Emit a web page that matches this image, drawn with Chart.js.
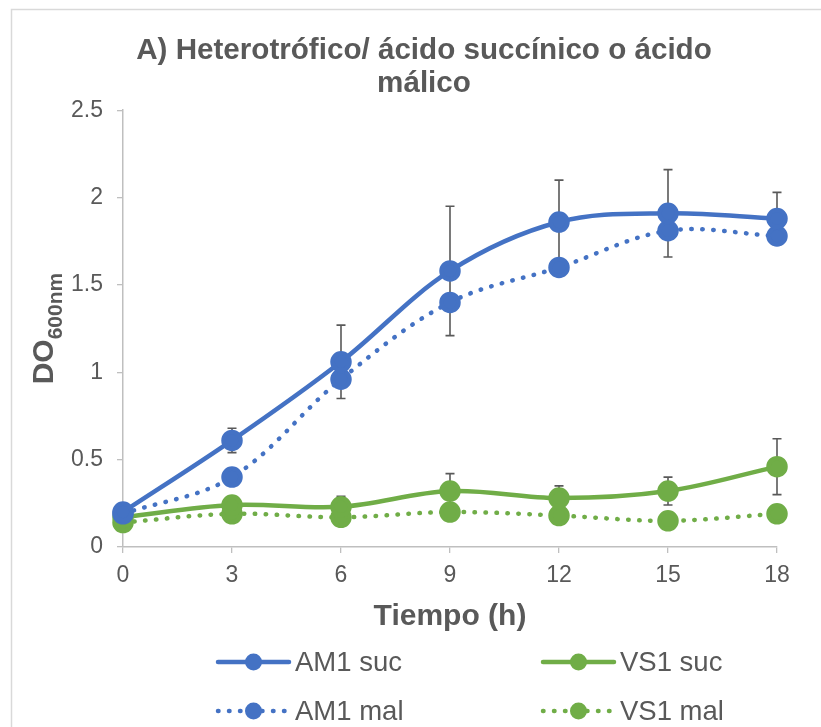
<!DOCTYPE html>
<html>
<head>
<meta charset="utf-8">
<script src="https://cdn.jsdelivr.net/npm/chart.js@4.4.1/dist/chart.umd.min.js"></script>
<style>
  html, body { margin: 0; padding: 0; background: #fff; }
  #wrap { width: 821px; height: 727px; position: relative; }
</style>
</head>
<body>
<div id="wrap"><canvas id="c" width="821" height="727"></canvas></div>
<script>
// data
const times = [0, 3, 6, 9, 12, 15, 18];
const am1Suc = [0.20, 0.61, 1.06, 1.58, 1.86, 1.91, 1.88];
const am1SucErr = [0.02, 0.07, 0.21, 0.37, 0.24, 0.25, 0.15];
const am1Mal = [0.19, 0.40, 0.96, 1.40, 1.60, 1.81, 1.78];
const vs1Suc = [0.17, 0.24, 0.23, 0.32, 0.28, 0.32, 0.46];
const vs1SucErr = [0, 0.02, 0.06, 0.10, 0.07, 0.08, 0.16];
const vs1Mal = [0.14, 0.19, 0.17, 0.20, 0.18, 0.15, 0.19];
const vs1MalErr = [0, 0, 0.05, 0, 0, 0, 0];
const yTicks = [0, 0.5, 1, 1.5, 2, 2.5];
const xTicks = [0, 3, 6, 9, 12, 15, 18];

const BLUE = "#4472C4";
const GREEN = "#70AD47";
const GREY = "#595959";
const FONT = "'Liberation Sans', Arial, sans-serif";

function pts(ys){
  return times.map((t, i) => ({x: t, y: ys[i]}));
}

function series(label, ys, errs, color, dotted){
  return {
    label: label,
    data: pts(ys),
    errors: errs,
    borderColor: color,
    backgroundColor: color,
    pointBackgroundColor: color,
    pointBorderColor: color,
    borderWidth: 4.5,
    borderDash: dotted ? [0.5, 10.5] : [],
    borderCapStyle: "round",
    pointRadius: 8.5,
    pointHoverRadius: 8.5,
    tension: 0.35,
    fill: false,
    clip: false
  };
}

// border around the figure
const frame = {
  id: "frame",
  beforeDraw(chart){
    const ctx = chart.ctx;
    ctx.save();
    ctx.fillStyle = "#fff";
    ctx.fillRect(0, 0, chart.width, chart.height);
    ctx.strokeStyle = "#d9d9d9";
    ctx.lineWidth = 1.5;
    ctx.strokeRect(11.5, 9.5, chart.width + 20, chart.height + 20);
    ctx.restore();
  }
};

// vertical error bars
const errorBars = {
  id: "errorBars",
  beforeDatasetsDraw(chart){
    const ctx = chart.ctx;
    const ys = chart.scales.y;
    ctx.save();
    ctx.strokeStyle = GREY;
    ctx.lineWidth = 1.6;
    chart.data.datasets.forEach((ds, di) => {
      const meta = chart.getDatasetMeta(di);
      ds.data.forEach((p, i) => {
        const e = ds.errors[i];
        if(!e) return;
        const x = meta.data[i].x;
        const top = ys.getPixelForValue(p.y + e);
        const bot = ys.getPixelForValue(p.y - e);
        ctx.beginPath();
        ctx.moveTo(x, top); ctx.lineTo(x, bot);
        ctx.moveTo(x - 4.5, top); ctx.lineTo(x + 4.5, top);
        ctx.moveTo(x - 4.5, bot); ctx.lineTo(x + 4.5, bot);
        ctx.stroke();
      });
    });
    ctx.restore();
  }
};

// y title with subscript + legend in two columns
const extras = {
  id: "extras",
  afterDraw(chart){
    const ctx = chart.ctx;
    const area = chart.chartArea;
    ctx.save();
    // y title
    ctx.translate(43, (area.top + area.bottom) / 2);
    ctx.rotate(-Math.PI / 2);
    ctx.fillStyle = GREY;
    ctx.textBaseline = "alphabetic";
    ctx.font = "bold 30px " + FONT;
    const w1 = ctx.measureText("DO").width;
    ctx.font = "bold 21px " + FONT;
    const w2 = ctx.measureText("600nm").width;
    const start = -(w1 + w2) / 2;
    ctx.font = "bold 30px " + FONT;
    ctx.textAlign = "left";
    ctx.fillText("DO", start, 10);
    ctx.font = "bold 21px " + FONT;
    ctx.fillText("600nm", start + w1, 19);
    ctx.restore();

    // legend
    const cols = [218, 543];
    const rows = [662, 711];
    const order = [0, 2, 1, 3];
    ctx.save();
    order.forEach((di, k) => {
      const ds = chart.data.datasets[di];
      const x0 = cols[k % 2];
      const y0 = rows[Math.floor(k / 2)];
      ctx.strokeStyle = ds.borderColor;
      ctx.lineWidth = ds.borderWidth;
      ctx.lineCap = "round";
      ctx.setLineDash(ds.borderDash);
      ctx.beginPath();
      ctx.moveTo(x0, y0); ctx.lineTo(x0 + 71, y0);
      ctx.stroke();
      ctx.setLineDash([]);
      ctx.fillStyle = ds.borderColor;
      ctx.beginPath();
      ctx.arc(x0 + 35.5, y0, 8.5, 0, Math.PI * 2);
      ctx.fill();
      ctx.fillStyle = GREY;
      ctx.font = "27.5px " + FONT;
      ctx.textBaseline = "middle";
      ctx.textAlign = "left";
      ctx.fillText(ds.label, x0 + 77, y0 + 1);
    });
    ctx.restore();
  }
};

new Chart(document.getElementById("c"), {
  type: "line",
  data: {
    datasets: [
      series("AM1 suc", am1Suc, am1SucErr, BLUE, false),
      series("AM1 mal", am1Mal, new Array(7).fill(0), BLUE, true),
      series("VS1 suc", vs1Suc, vs1SucErr, GREEN, false),
      series("VS1 mal", vs1Mal, vs1MalErr, GREEN, true)
    ]
  },
  options: {
    responsive: false,
    animation: false,
    events: [],
    layout: { padding: { left: 71, right: 44, top: 0, bottom: 90 } },
    plugins: {
      legend: { display: false },
      tooltip: { enabled: false },
      title: {
        display: true,
        text: ["A) Heterotrófico/ ácido succínico o ácido", "málico"],
        color: GREY,
        font: { family: FONT, size: 29.6, weight: "bold", lineHeight: 1.11 },
        padding: { top: 34.5, bottom: 10 }
      }
    },
    scales: {
      x: {
        type: "linear",
        min: 0, max: 18,
        afterBuildTicks(scale){ scale.ticks = xTicks.map(v => ({value: v})); },
        afterFit(scale){ scale.height = 90; },
        grid: { drawOnChartArea: false, color: "#bfbfbf", lineWidth: 1.3, tickLength: 6 },
        border: { color: "#bfbfbf", width: 1.5 },
        ticks: { color: GREY, font: { family: FONT, size: 23 }, padding: 9, maxRotation: 0,
                 callback: v => String(v) },
        title: {
          display: true, text: "Tiempo (h)", color: GREY,
          font: { family: FONT, size: 30, weight: "bold" },
          padding: { top: 0, bottom: 2 }
        }
      },
      y: {
        min: 0, max: 2.5,
        afterBuildTicks(scale){ scale.ticks = yTicks.map(v => ({value: v})); },
        afterFit(scale){ scale.width = 52; },
        grid: { drawOnChartArea: false, color: "#bfbfbf", lineWidth: 1.3, tickLength: 6 },
        border: { color: "#bfbfbf", width: 1.5 },
        ticks: { color: GREY, font: { family: FONT, size: 23 }, padding: 14,
                 callback: v => String(v) }
      }
    }
  },
  plugins: [frame, errorBars, extras]
});
</script>
</body>
</html>
